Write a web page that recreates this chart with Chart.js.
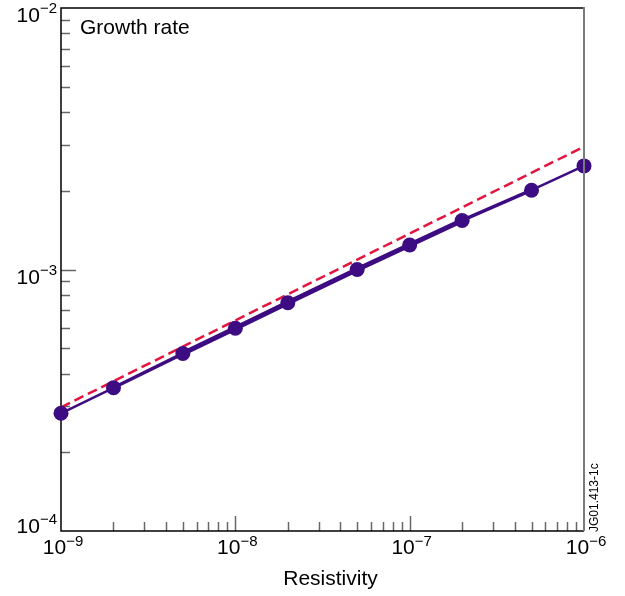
<!DOCTYPE html>
<html>
<head>
<meta charset="utf-8">
<script src="https://cdn.jsdelivr.net/npm/chart.js@4.4.1/dist/chart.umd.min.js"></script>
<style>
html,body{margin:0;padding:0;background:#fff;}
#wrap{width:625px;height:596px;position:relative;}
</style>
</head>
<body>
<div id="wrap"><canvas id="c" width="625" height="596"></canvas></div>
<script>
// ---- data ----
const resistivity = [1e-9, 2e-9, 5e-9, 1e-8, 2e-8, 5e-8, 1e-7, 2e-7, 5e-7, 1e-6];
const growthRate  = [2.82e-4, 3.53e-4, 4.77e-4, 5.96e-4, 7.46e-4, 1.00e-3, 1.24e-3, 1.54e-3, 2.01e-3, 2.49e-3];
const fitX = [1e-9, 1e-6];
const fitY = [2.97e-4, 2.95e-3];
const xTickExponents = [-9, -8, -7, -6];
const yTickExponents = [-4, -3, -2];
const titleText = 'Growth rate';
const xAxisTitle = 'Resistivity';
const figureId = 'JG01.413-1c';

const PURPLE = '#3d0c82';
const RED = '#e3153f';
const FONT = '"Liberation Sans", Arial, Helvetica, sans-serif';
const segWidths = [2.5, 3.5, 5, 5, 5, 5, 5, 3.5, 2.5];

const mainPts = resistivity.map((x, i) => ({x: x, y: growthRate[i]}));
const fitPts = fitX.map((x, i) => ({x: x, y: fitY[i]}));

function sup(ctx, base, exp, x, yBase, align, bigSize, smallSize, rise) {
  ctx.font = bigSize + 'px ' + FONT;
  const wb = ctx.measureText(base).width;
  ctx.font = smallSize + 'px ' + FONT;
  const we = ctx.measureText(exp).width;
  const tot = wb + we;
  let x0;
  if (align === 'center') x0 = x - tot / 2;
  else if (align === 'right') x0 = x - tot;
  else x0 = x;
  ctx.textAlign = 'left';
  ctx.textBaseline = 'alphabetic';
  ctx.font = bigSize + 'px ' + FONT;
  ctx.fillText(base, x0, yBase);
  ctx.font = smallSize + 'px ' + FONT;
  ctx.fillText(exp, x0 + wb, yBase - rise);
}

const axesBehind = {
  id: 'axesBehind',
  beforeDatasetsDraw(chart) {
    const ctx = chart.ctx;
    const a = chart.chartArea;
    const xs = chart.scales.x, ys = chart.scales.y;
    ctx.save();
    ctx.strokeStyle = '#666';
    ctx.lineWidth = 1.5;
    for (let e = yTickExponents[0]; e < yTickExponents[yTickExponents.length - 1]; e++) {
      for (let m = 1; m <= 9; m++) {
        if (m === 1 && e === yTickExponents[0]) continue;
        const v = m * Math.pow(10, e);
        const py = Math.round(ys.getPixelForValue(v)) + 0.5;
        const len = (m === 1) ? 15 : 9;
        ctx.beginPath(); ctx.moveTo(a.left, py); ctx.lineTo(a.left + len, py); ctx.stroke();
      }
    }
    for (let e = xTickExponents[0]; e < xTickExponents[xTickExponents.length - 1]; e++) {
      for (let m = 1; m <= 9; m++) {
        if (m === 1 && e === xTickExponents[0]) continue;
        const v = m * Math.pow(10, e);
        const px = Math.round(xs.getPixelForValue(v)) + 0.5;
        const len = (m === 1) ? 15 : 9;
        ctx.beginPath(); ctx.moveTo(px, a.bottom); ctx.lineTo(px, a.bottom - len); ctx.stroke();
      }
    }
    ctx.strokeStyle = '#000';
    ctx.lineWidth = 1.5;
    ctx.beginPath();
    ctx.moveTo(a.right, a.top); ctx.lineTo(a.left, a.top); ctx.lineTo(a.left, a.bottom); ctx.lineTo(a.right, a.bottom);
    ctx.stroke();
    ctx.restore();
  },
  afterDatasetsDraw(chart) {
    const ctx = chart.ctx;
    const a = chart.chartArea;
    const xs = chart.scales.x, ys = chart.scales.y;
    ctx.save();
    ctx.strokeStyle = '#7a7a7a';
    ctx.lineWidth = 2;
    ctx.beginPath(); ctx.moveTo(a.right, a.top - 1); ctx.lineTo(a.right, a.bottom); ctx.stroke();
    ctx.fillStyle = '#000';
    yTickExponents.forEach(e => {
      const py = ys.getPixelForValue(Math.pow(10, e));
      const dy = (e === yTickExponents[0]) ? -12 : 0;
      sup(ctx, '10', '\u2212' + Math.abs(e), a.left - 4, py + 14 + dy, 'right', 21, 15, 9);
    });
    xTickExponents.forEach(e => {
      const px = xs.getPixelForValue(Math.pow(10, e));
      sup(ctx, '10', '\u2212' + Math.abs(e), px + 2, a.bottom + 23, 'center', 21, 15, 8);
    });
    ctx.font = '21px ' + FONT;
    ctx.textAlign = 'center';
    ctx.textBaseline = 'alphabetic';
    ctx.fillText(xAxisTitle, (a.left + a.right) / 2 + 8, 585);
    ctx.textAlign = 'left';
    ctx.fillText(titleText, 80, 34);
    ctx.save();
    ctx.translate(598, 532);
    ctx.rotate(-Math.PI / 2);
    ctx.font = '12px ' + FONT;
    ctx.textAlign = 'left';
    ctx.fillText(figureId, 0, 0);
    ctx.restore();
    ctx.restore();
  }
};

new Chart(document.getElementById('c'), {
  type: 'scatter',
  data: {
    datasets: [
      {
        label: 'fit',
        data: fitPts,
        showLine: true,
        borderColor: RED,
        borderWidth: 2.5,
        borderDash: [10, 5],
        pointRadius: 0,
        clip: false,
        order: 2
      },
      {
        label: 'growth',
        data: mainPts,
        showLine: true,
        borderColor: PURPLE,
        backgroundColor: PURPLE,
        borderWidth: 2.5,
        segment: { borderWidth: ctx => segWidths[ctx.p0DataIndex] },
        pointRadius: 7.5,
        pointBorderWidth: 0,
        pointBackgroundColor: PURPLE,
        clip: false,
        order: 1
      }
    ]
  },
  options: {
    responsive: false,
    animation: false,
    devicePixelRatio: 1,
    layout: { padding: { left: 61, right: 41, top: 8, bottom: 65 } },
    plugins: { legend: { display: false }, tooltip: { enabled: false }, title: { display: false } },
    scales: {
      x: { type: 'logarithmic', display: false, min: Math.pow(10, xTickExponents[0]), max: Math.pow(10, xTickExponents[xTickExponents.length - 1]) },
      y: { type: 'logarithmic', display: false, min: Math.pow(10, yTickExponents[0]), max: Math.pow(10, yTickExponents[yTickExponents.length - 1]) }
    }
  },
  plugins: [axesBehind]
});
</script>
</body>
</html>
